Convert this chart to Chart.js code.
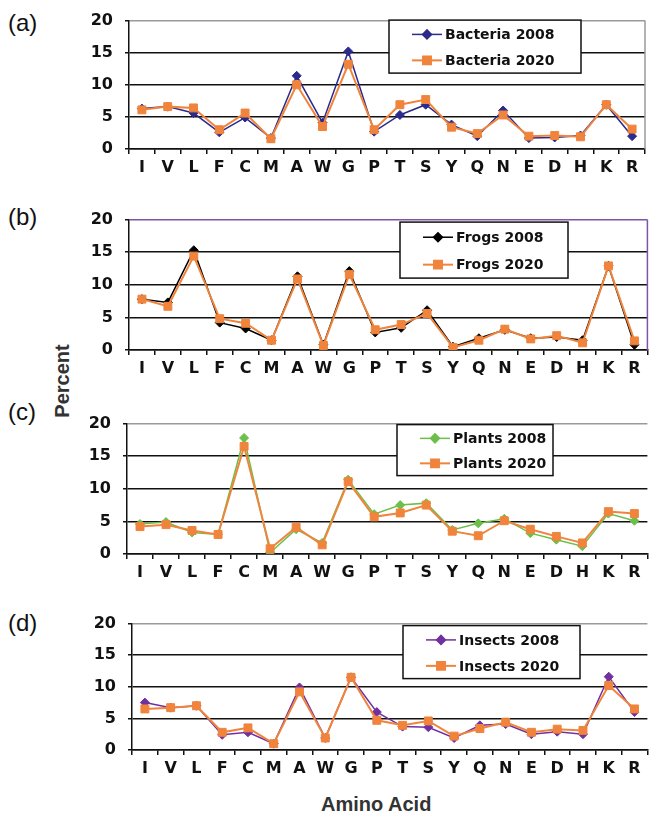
<!DOCTYPE html>
<html>
<head>
<meta charset="utf-8">
<script src="https://cdn.jsdelivr.net/npm/chart.js@4.4.1/dist/chart.umd.min.js"></script>
<style>
	html, body { margin: 0; padding: 0; background: #fff; }
	#wrap { position: relative; width: 654px; height: 813px; overflow: hidden; }
	canvas { position: absolute; left: 0; }
	.tag { position: absolute; left: 8px; font: 24px "Liberation Sans", Arial, sans-serif; color: #111; line-height: 1; }
	.title { position: absolute; font: bold 20px "Liberation Sans", Arial, sans-serif; color: #333; white-space: nowrap; line-height: 1; }
</style>
</head>
<body>
<div id="wrap">
	<div class="tag" style="top:11px">(a)</div>
	<div class="tag" style="top:205px">(b)</div>
	<div class="tag" style="top:400px">(c)</div>
	<div class="tag" style="top:611px">(d)</div>
	<div class="title" style="left:62px; top:381px; transform: translate(-50%, -50%) rotate(-90deg);">Percent</div>
	<div class="title" style="left:321px; top:794px;">Amino Acid</div>
</div>
<script>
const categories = ['I', 'V', 'L', 'F', 'C', 'M', 'A', 'W', 'G', 'P', 'T', 'S', 'Y', 'Q', 'N', 'E', 'D', 'H', 'K', 'R'];

const bacteria2008 = [6.3, 6.6, 5.6, 2.6, 4.9, 1.7, 11.4, 4.1, 15.2, 2.7, 5.3, 6.9, 3.8, 2.0, 6.0, 1.7, 1.8, 2.1, 6.9, 2.0];
const bacteria2020 = [6.1, 6.6, 6.4, 3.0, 5.6, 1.6, 10.0, 3.5, 13.2, 3.0, 6.9, 7.7, 3.4, 2.4, 5.3, 2.0, 2.1, 1.9, 6.9, 3.1];

const frogs2008 = [7.8, 7.3, 15.3, 4.2, 3.3, 1.5, 11.3, 0.8, 12.1, 2.7, 3.4, 6.1, 0.5, 1.8, 3.1, 1.8, 2.0, 1.5, 12.9, 0.8];
const frogs2020 = [7.8, 6.7, 14.4, 4.8, 4.1, 1.5, 10.9, 0.7, 11.6, 3.1, 3.9, 5.6, 0.4, 1.5, 3.2, 1.7, 2.2, 1.1, 12.9, 1.4];

const plants2008 = [4.6, 4.9, 3.3, 3.0, 17.8, 0.2, 3.8, 1.7, 11.4, 6.1, 7.5, 7.8, 3.7, 4.7, 5.4, 3.2, 2.2, 1.2, 6.2, 5.1];
const plants2020 = [4.2, 4.5, 3.6, 3.0, 16.5, 0.8, 4.1, 1.4, 11.1, 5.7, 6.3, 7.5, 3.5, 2.8, 5.1, 3.8, 2.7, 1.7, 6.5, 6.2];

const insects2008 = [7.5, 6.7, 7.0, 2.4, 2.8, 1.0, 9.9, 1.9, 11.5, 6.0, 3.7, 3.6, 1.9, 3.9, 4.1, 2.5, 2.9, 2.5, 11.6, 6.0];
const insects2020 = [6.5, 6.7, 7.0, 2.8, 3.5, 1.0, 9.2, 1.9, 11.5, 4.7, 3.9, 4.6, 2.2, 3.4, 4.4, 2.8, 3.3, 3.1, 10.2, 6.5];

const ORANGE = '#f0843c';
const TICK_FONT = { family: '"DejaVu Sans", Verdana, sans-serif', size: 16, weight: 'bold' };

// legend drawn as a framed box inside the plot, like the original spreadsheet chart
const boxLegend = {
	id: 'boxLegend',
	afterDatasetsDraw(chart, args, opts) {
		if (!opts.box) return;
		const ctx = chart.ctx;
		const [bx, by, bw, bh] = opts.box;
		const y0 = by - opts.plotTop + chart.chartArea.top;
		ctx.save();
		ctx.fillStyle = '#fff';
		ctx.fillRect(bx, y0, bw, bh);
		ctx.strokeStyle = '#111';
		ctx.lineWidth = 1.5;
		ctx.strokeRect(bx, y0, bw, bh);
		const rows = [y0 + bh * 0.27, y0 + bh * 0.76];
		[1, 0].forEach((di, i) => {
			const ds = chart.data.datasets[di];
			const ry = rows[i];
			ctx.strokeStyle = ds.borderColor;
			ctx.lineWidth = ds.borderWidth;
			ctx.beginPath();
			ctx.moveTo(bx + 23, ry);
			ctx.lineTo(bx + 53, ry);
			ctx.stroke();
			ctx.fillStyle = ds.pointBackgroundColor;
			ctx.strokeStyle = ds.pointBorderColor;
			Chart.helpers.drawPoint(ctx, {
				pointStyle: ds.pointStyle, radius: ds.pointRadius, rotation: 0, borderWidth: 1
			}, bx + 38, ry);
			ctx.fillStyle = '#111';
			ctx.font = 'bold 14px "DejaVu Sans", Verdana, sans-serif';
			ctx.textBaseline = 'middle';
			ctx.fillText(ds.label, bx + 56, ry + 1);
		});
		ctx.restore();
	}
};

const frameRight = {
	id: 'frameRight',
	beforeDatasetsDraw(chart, args, opts) {
		if (!opts.color) return;
		const a = chart.chartArea;
		const ctx = chart.ctx;
		ctx.save();
		ctx.strokeStyle = opts.color;
		ctx.lineWidth = 1.5;
		ctx.beginPath();
		ctx.moveTo(a.right, a.top);
		ctx.lineTo(a.right, a.bottom);
		ctx.stroke();
		ctx.restore();
	}
};

function make_panel(p) {
	const c = document.createElement('canvas');
	const xh = 34;
	c.width = 654;
	c.height = 200;
	c.style.width = '654px';
	c.style.height = '200px';
	document.getElementById('wrap').appendChild(c);

	const chart = new Chart(c, {
		type: 'line',
		data: {
			labels: categories,
			datasets: [
				{
					label: p.name + ' 2020',
					data: p.d2020,
					borderColor: ORANGE,
					borderWidth: 2,
					pointStyle: 'rect',
					pointRadius: 5.6,
					pointBackgroundColor: ORANGE,
					pointBorderColor: ORANGE,
					pointBorderWidth: 1,
					tension: 0,
					order: 1
				},
				{
					label: p.name + ' 2008',
					data: p.d2008,
					borderColor: p.color,
					borderWidth: 1.5,
					pointStyle: 'rectRot',
					pointRadius: 4.5,
					pointBackgroundColor: p.color,
					pointBorderColor: p.color,
					pointBorderWidth: 1,
					tension: 0,
					order: 2
				}
			]
		},
		options: {
			responsive: false,
			maintainAspectRatio: false,
			animation: false,
			devicePixelRatio: 1,
			layout: { padding: { top: 0, right: 654 - p.right, left: 0, bottom: 0 } },
			plugins: {
				legend: { display: false },
				tooltip: { enabled: false },
				boxLegend: { box: p.legend, plotTop: p.top },
				frameRight: { color: p.rightColor }
			},
			scales: {
				x: {
					offset: true,
					afterFit: s => { s.height = xh; },
					grid: { offset: true, drawOnChartArea: false, drawTicks: true, tickLength: 5, tickColor: '#111', lineWidth: 1.5 },
					border: { display: true, color: '#111', width: 1.5 },
					ticks: { color: '#111', font: TICK_FONT, padding: 4, maxRotation: 0, autoSkip: false }
				},
				y: {
					min: 0,
					max: 20,
					afterFit: s => { s.width = p.left; },
					grid: {
						color: ctx => ctx.tick && ctx.tick.value === 20 ? p.topColor : '#111',
						tickColor: '#111',
						lineWidth: 1.5,
						tickLength: 4
					},
					border: { display: true, color: '#111', width: 1.5 },
					ticks: { stepSize: 5, color: '#111', font: TICK_FONT, padding: 12 }
				}
			}
		},
		plugins: [boxLegend, frameRight]
	});

	// size the canvas so the plot area lands exactly where the reference has it
	const over = chart.chartArea.top;
	const h = Math.round(over + (p.bottom - p.top) + xh);
	chart.resize(654, h);
	c.style.top = (p.top - chart.chartArea.top) + 'px';
}

make_panel({ name: 'Bacteria', d2008: bacteria2008, d2020: bacteria2020, color: '#2b2b8c',
	top: 20.5, bottom: 148.5, left: 129, right: 645, topColor: '#9a9a9a', rightColor: '#9a9a9a',
	legend: [389, 20, 192, 53] });
make_panel({ name: 'Frogs', d2008: frogs2008, d2020: frogs2020, color: '#000000',
	top: 219.5, bottom: 350, left: 129, right: 651, topColor: '#7b55a8', rightColor: '#7b55a8',
	legend: [400, 222, 168, 56] });
make_panel({ name: 'Plants', d2008: plants2008, d2020: plants2020, color: '#6cc04a',
	top: 424, bottom: 554, left: 127, right: 654, topColor: '#9a9a9a', rightColor: null,
	legend: [397, 425, 156, 51] });
make_panel({ name: 'Insects', d2008: insects2008, d2020: insects2020, color: '#7030a0',
	top: 624, bottom: 750, left: 132, right: 654, topColor: '#9a9a9a', rightColor: null,
	legend: [403, 626, 177, 53] });
</script>
</body>
</html>
